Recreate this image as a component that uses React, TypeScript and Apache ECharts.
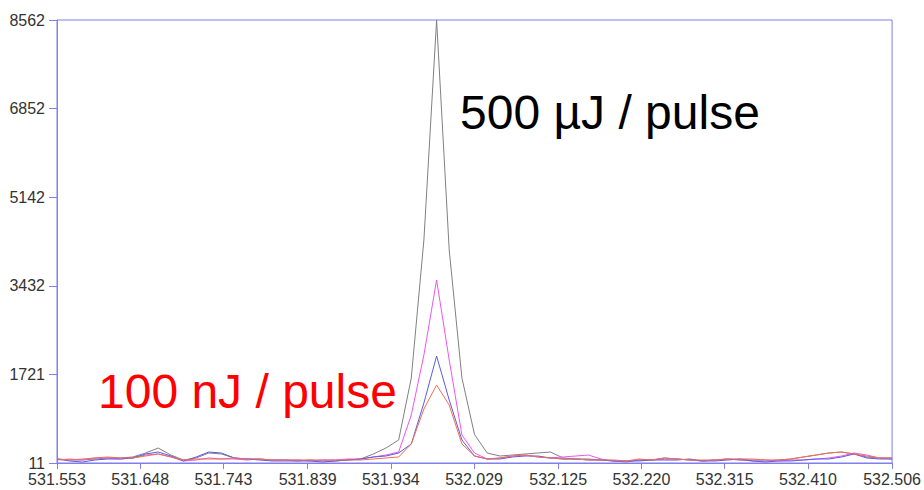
import React, { useEffect, useRef } from "react";
import * as echarts from "echarts";

const xValues = [
  531.553, 531.5674, 531.5819, 531.5963, 531.6108, 531.6252, 531.6396, 531.6541, 531.6685, 531.683,
  531.6974, 531.7118, 531.7263, 531.7407, 531.7552, 531.7696, 531.784, 531.7985, 531.8129, 531.8274,
  531.8418, 531.8562, 531.8707, 531.8851, 531.8995, 531.914, 531.9284, 531.9429, 531.9573, 531.9717,
  531.9862, 532.0006, 532.0151, 532.0295, 532.0439, 532.0584, 532.0728, 532.0873, 532.1017, 532.1161,
  532.1306, 532.145, 532.1595, 532.1739, 532.1883, 532.2028, 532.2172, 532.2317, 532.2461, 532.2605,
  532.275, 532.2894, 532.3039, 532.3183, 532.3327, 532.3472, 532.3616, 532.3761, 532.3905, 532.4049,
  532.4194, 532.4338, 532.4483, 532.4627, 532.4771, 532.4916, 532.506,
];

const gray500uJ = [
  88, 69, 69, 88, 108, 108, 127, 204, 300, 165, 69, 108, 204, 185, 108, 88, 88, 69, 69, 50,
  69, 50, 50, 69, 88, 185, 300, 455, 1651, 4315, 8562, 4122, 1651, 560, 204, 146, 165, 185, 204, 223,
  108, 88, 88, 69, 50, 30, 69, 69, 108, 88, 69, 50, 69, 88, 69, 50, 50, 69, 88, 127,
  165, 204, 223, 185, 127, 108, 108,
];

const pinkSeries = [
  69, 88, 69, 108, 108, 88, 108, 165, 185, 127, 50, 69, 108, 88, 88, 69, 88, 69, 69, 69,
  50, 69, 69, 88, 88, 127, 165, 223, 937, 2095, 3543, 1999, 551, 204, 88, 108, 146, 165, 127, 108,
  127, 146, 165, 88, 50, 50, 69, 69, 88, 88, 69, 50, 69, 88, 69, 69, 69, 50, 69, 69,
  88, 108, 146, 204, 165, 108, 88,
];

const blueSeries = [
  88, 50, 30, 69, 88, 88, 108, 185, 223, 146, 50, 127, 223, 204, 108, 88, 69, 50, 50, 50,
  50, 30, 50, 69, 88, 127, 146, 204, 378, 1169, 2076, 1227, 455, 146, 88, 88, 127, 146, 146, 108,
  88, 88, 69, 69, 50, 50, 50, 69, 69, 69, 88, 50, 50, 69, 88, 50, 30, 50, 50, 69,
  88, 88, 127, 185, 108, 88, 88,
];

const red100nJ = [
  88, 69, 88, 108, 127, 108, 108, 146, 185, 127, 69, 88, 88, 88, 108, 88, 88, 69, 69, 69,
  69, 69, 69, 69, 69, 88, 108, 127, 378, 1053, 1516, 1130, 378, 146, 88, 108, 146, 165, 127, 108,
  88, 88, 69, 69, 69, 50, 88, 69, 108, 88, 69, 69, 69, 88, 88, 88, 69, 69, 88, 127,
  165, 204, 223, 185, 146, 108, 108,
];

const yTicks = [11, 1721, 3432, 5142, 6852, 8562];
const xTicks = [
  531.553, 531.648, 531.743, 531.839, 531.934, 532.029, 532.125, 532.22, 532.315, 532.41, 532.506,
];

const labelHigh = "500 \u00b5J / pulse";
const labelLow = "100 nJ / pulse";

const pairs = (ys: number[]) => xValues.map((x, i) => [x, ys[i]]);

export default function App() {
  const ref = useRef<HTMLDivElement>(null);
  useEffect(() => {
    if (!ref.current) return;
    const chart = echarts.init(ref.current, undefined, { renderer: "svg" });
    const axisBlue = "#7f7fee";
    const mkLine = (name: string, data: number[], color: string) => ({
      name,
      type: "line",
      data: pairs(data),
      showSymbol: false,
      symbol: "none",
      lineStyle: { color, width: 1 },
      itemStyle: { color },
    });
    chart.setOption({
      animation: false,
      backgroundColor: "#ffffff",
      grid: {
        left: 57,
        right: 31,
        top: 20,
        bottom: 27,
        show: true,
        borderColor: axisBlue,
        borderWidth: 1,
        backgroundColor: "transparent",
      },
      xAxis: {
        type: "value",
        min: 531.553,
        max: 532.506,
        axisLine: { show: true, lineStyle: { color: axisBlue, width: 1 } },
        axisTick: {
          show: true,
          length: 6,
          customValues: xTicks,
          lineStyle: { color: axisBlue },
        },
        axisLabel: {
          customValues: xTicks,
          formatter: (v: number) => v.toFixed(3),
          color: "#333333",
          fontSize: 16,
          fontFamily: "Liberation Sans, Arial, sans-serif",
          margin: 8,
        },
        splitLine: { show: false },
      },
      yAxis: {
        type: "value",
        min: 11,
        max: 8562,
        axisLine: { show: true, lineStyle: { color: axisBlue, width: 1 } },
        axisTick: {
          show: true,
          length: 8,
          customValues: yTicks,
          lineStyle: { color: axisBlue },
        },
        axisLabel: {
          customValues: yTicks,
          formatter: (v: number) => String(Math.round(v)),
          color: "#333333",
          fontSize: 16,
          fontFamily: "Liberation Sans, Arial, sans-serif",
          margin: 12,
        },
        splitLine: { show: false },
      },
      series: [
        mkLine("500 µJ", gray500uJ, "#808080"),
        mkLine("pink", pinkSeries, "#ee55ee"),
        mkLine("blue", blueSeries, "#5a5ae6"),
        mkLine("100 nJ", red100nJ, "#ee7050"),
      ],
      graphic: [
        {
          type: "text",
          x: 460,
          y: 112,
          style: {
            text: labelHigh,
            fill: "#000000",
            fontSize: 48,
            fontFamily: "Liberation Sans, Arial, sans-serif",
            align: "left",
            verticalAlign: "middle",
          },
        },
        {
          type: "text",
          x: 98,
          y: 391,
          style: {
            text: labelLow,
            fill: "#ff0000",
            fontSize: 48,
            fontFamily: "Liberation Sans, Arial, sans-serif",
            align: "left",
            verticalAlign: "middle",
          },
        },
      ],
    });
    return () => chart.dispose();
  }, []);
  return (
    <div
      ref={ref}
      style={{ position: "fixed", left: 0, top: 0, width: 924, height: 490 }}
    />
  );
}
